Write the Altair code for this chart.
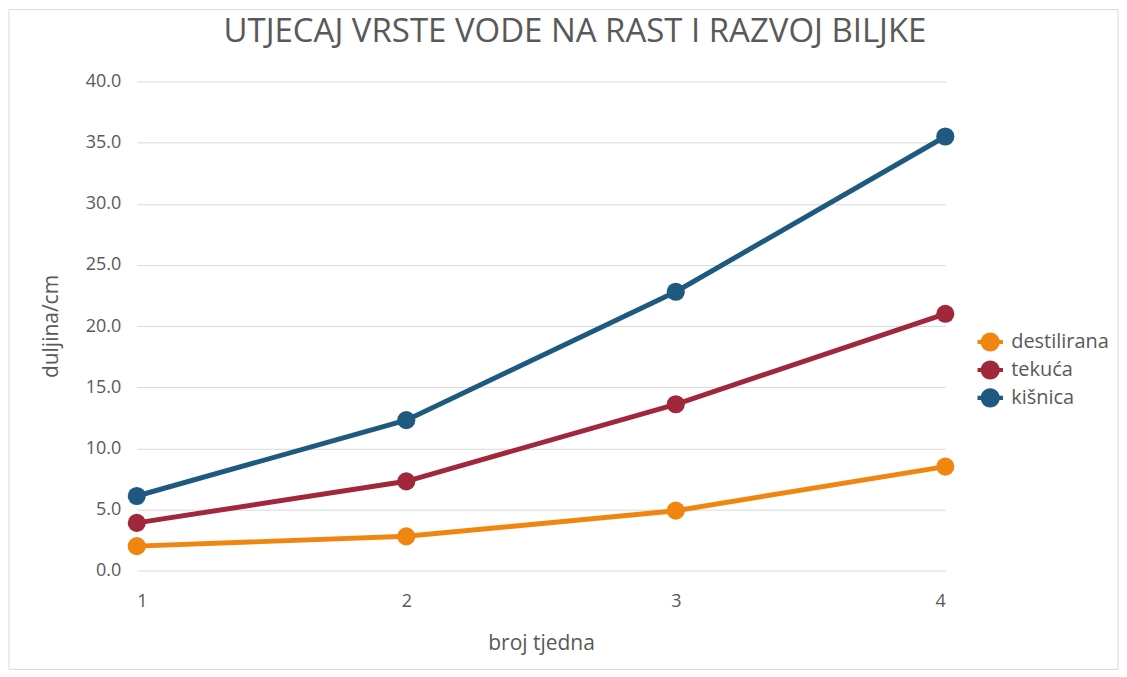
import altair as alt
import pandas as pd

weeks = [1, 2, 3, 4]
series_names = ["destilirana", "tekuća", "kišnica"]
destilirana = [2.0, 2.8, 4.9, 8.5]
tekuca = [3.9, 7.3, 13.6, 21.0]
kisnica = [6.1, 12.3, 22.8, 35.5]
colors = ["#F0850F", "#A0283A", "#1E5A7F"]

rows = []
for name, vals in zip(series_names, [destilirana, tekuca, kisnica]):
    for w, v in zip(weeks, vals):
        rows.append({"tjedan": w, "duljina": v, "vrsta": name})
df = pd.DataFrame(rows)

W, H = 810, 490
FONT = "Open Sans"
GREY = "#595959"

legend_path = ("M0.75,0 A0.75,0.75 0 1,1 -0.75,0 A0.75,0.75 0 1,1 0.75,0 Z "
               "M-1,-0.16 L1,-0.16 L1,0.16 L-1,0.16 Z")

color = alt.Color(
    "vrsta:N",
    scale=alt.Scale(domain=series_names, range=colors),
    sort=series_names,
    legend=alt.Legend(
        title=None, orient="none", legendX=842, legendY=248,
        symbolType=legend_path, symbolSize=650, symbolStrokeWidth=0,
        symbolOpacity=1, labelFontSize=20, labelFont=FONT, labelColor=GREY,
        labelOffset=8, rowPadding=5, padding=0,
    ),
)

x = alt.X("tjedan:Q", scale=alt.Scale(domain=[1, 4], nice=False, zero=False),
          axis=alt.Axis(title="broj tjedna", values=weeks, format="d", grid=False,
                        domain=False, ticks=False, labelPadding=22,
                        labelFontSize=18, titleFontSize=21, titlePadding=22,
                        labelFont=FONT, titleFont=FONT, labelColor=GREY,
                        titleColor=GREY, titleFontWeight="normal"))
y = alt.Y("duljina:Q", scale=alt.Scale(domain=[0, 40], nice=False),
          axis=alt.Axis(title="duljina/cm", values=[0, 5, 10, 15, 20, 25, 30, 35, 40],
                        format=".1f", grid=True, gridColor="#D9D9D9", domain=False,
                        ticks=False, labelPadding=16, labelFontSize=18,
                        titleFontSize=21, titlePadding=24, labelFont=FONT,
                        titleFont=FONT, labelColor=GREY, titleColor=GREY,
                        titleFontWeight="normal"))

base = alt.Chart(df).encode(x=x, y=y, color=color)
lines = base.mark_line(strokeWidth=5, clip=False)
points = base.mark_circle(size=330, opacity=1, clip=False)

frame = alt.Chart(pd.DataFrame({"a": [0]})).mark_rect(
    fill=None, stroke="#D9D9D9", strokeWidth=1
).encode(x=alt.value(-128), x2=alt.value(W + 173), y=alt.value(-72), y2=alt.value(H + 99))

chart = alt.layer(frame, lines, points).properties(
    width=W, height=H, padding=0,
    title=alt.TitleParams("UTJECAJ VRSTE VODE NA RAST I RAZVOJ BILJKE",
                          fontSize=33, font=FONT, fontWeight="normal",
                          color=GREY, anchor="middle", dx=34, offset=-40),
).configure_view(stroke=None)

chart.save("out.html", embed_options={"renderer": "svg", "actions": False})
